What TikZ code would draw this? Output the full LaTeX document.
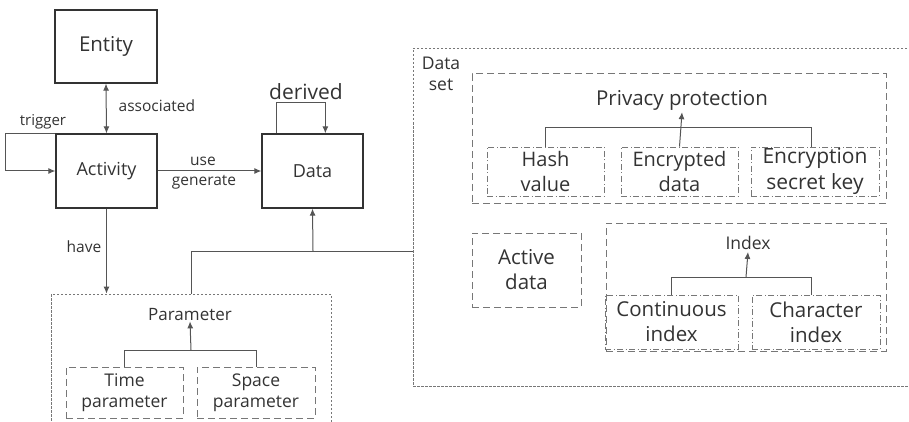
\documentclass[tikz,border=0pt]{standalone}
\usepackage{fontspec}
\setmainfont{Open Sans}
\usetikzlibrary{arrows.meta}
\definecolor{txt}{HTML}{333333}
\definecolor{boxc}{HTML}{333333}
\definecolor{linec}{HTML}{555555}
\definecolor{dashc}{HTML}{777777}
\newcommand{\fs}[1]{\fontsize{#1}{\fpeval{#1*1.22}}\selectfont}
\tikzset{
  lbl/.style={text=txt, inner sep=0, align=center},
  mainbox/.style={draw=boxc, line width=1.3pt, text=txt, inner sep=0,
    minimum width=101pt, minimum height=74pt},
  finebox/.style={draw=dashc, line width=0.8pt, dash pattern=on 2.5pt off 1.5pt, inner sep=0},
  longbox/.style={draw=dashc, line width=1pt, dash pattern=on 7pt off 4pt,
    inner sep=0, text=txt, align=center},
  dotbox/.style={draw=dashc, line width=0.8pt, dash pattern=on 6pt off 2.5pt on 1pt off 2.5pt,
    inner sep=0, text=txt, align=center},
  conn/.style={draw=linec, line width=1pt},
  arr/.style={conn, -{Latex[length=7pt,width=6pt]}},
  biarr/.style={conn, {Latex[length=7pt,width=6pt]}-{Latex[length=7pt,width=6pt]}},
}
\begin{document}
\begin{tikzpicture}[x=1pt, y=-1pt]
\useasboundingbox (0,0) rectangle (909,422);
\clip (0,0) rectangle (909,422);

% main flow
\node[mainbox, minimum width=102pt, minimum height=73pt, font=\fs{20.5}] (entity) at (106,46.5) {Entity};
\node[mainbox, font=\fs{18}] (activity) at (106.5,171) {Activity};
\node[mainbox, font=\fs{18}] (data) at (312.5,171) {Data};

\draw[biarr] (entity.south) -- (activity.north)
  node[lbl, pos=0.45, right=12pt, font=\fs{15.5}] (assoc) {associated};
\draw[arr] (activity.north west) -- ++(-50,0) |- (activity.west);
\node[lbl, font=\fs{15}] (trig) at (43,122) {trigger};
\draw[arr] (activity.east) -- (data.west);
\node[lbl, font=\fs{15.5}] (use) at (203,161) {use};
\node[lbl, font=\fs{15.5}] (gen) at (204,182) {generate};
\draw[arr] ([xshift=15pt]data.north west) -- ++(0,-31) -| ([xshift=64pt]data.north west);
\node[lbl, font=\fs{21}] (derived) at (306,92) {derived};

% parameters
\node[finebox, minimum width=280pt, minimum height=140pt] (parambox) at (191,364) {};
\draw[arr] (activity.south) -- (activity.south |- parambox.north);
\node[lbl, font=\fs{15.5}] (have) at (84,247) {have};
\node[lbl, font=\fs{17}] (param) at (190,315) {Parameter};
\node[longbox, minimum width=117pt, minimum height=51pt, font=\fs{17.5}] (timep) at (124.5,392.5) {Time\\parameter};
\node[longbox, minimum width=118pt, minimum height=51pt, font=\fs{17.5}] (spacep) at (256,392.5) {Space\\parameter};
\coordinate (pj) at (191,350);
\draw[conn] (timep.north) |- (spacep.north |- pj) -- (spacep.north);
\draw[arr] (pj) -- (param.south);

% data set
\node[finebox, minimum width=502pt, minimum height=338pt] (dataset) at (664,217) {};
\node[lbl, font=\fs{17.5}, align=center] (dslbl) at (441,74) {Data\\set};
\coordinate (bus) at (313,251);
\draw[conn] (parambox.north) |- (dataset.west |- bus);
\draw[arr] (bus) -- (data.south);

% privacy protection
\node[longbox, minimum width=414pt, minimum height=129pt] (privbox) at (679,138.5) {};
\node[lbl, font=\fs{20.5}] (priv) at (682,100) {Privacy protection};
\node[dotbox, minimum width=117pt, minimum height=49pt, font=\fs{20}] (hash) at (545.5,171.5) {Hash\\value};
\node[dotbox, minimum width=117pt, minimum height=49pt, font=\fs{20}] (encd) at (679.5,171.5) {Encrypted\\data};
\node[dotbox, minimum width=128pt, minimum height=49pt, font=\fs{21}] (enck) at (815,171.5) {Encryption\\secret key};
\coordinate (ej) at (680,128);
\draw[conn] (hash.north) |- ([xshift=-4pt]enck.north |- ej) -- ([xshift=-4pt]enck.north);
\draw[arr] (encd.north) -- ([yshift=-2pt]priv.south);

% active data and index
\node[longbox, minimum width=109pt, minimum height=74pt, font=\fs{20.5}] (active) at (526.5,270) {Active\\data};
\node[longbox, minimum width=280pt, minimum height=128pt] (idxbox) at (746,287) {};
\node[lbl, font=\fs{17.5}] (idx) at (748,243) {Index};
\node[dotbox, minimum width=133pt, minimum height=54pt, font=\fs{20.5}] (cont) at (671.5,322) {Continuous\\index};
\node[dotbox, minimum width=128pt, minimum height=54pt, font=\fs{20.5}] (char) at (816,322) {Character\\index};
\coordinate (ij) at (746,277);
\draw[conn] (cont.north) |- ([xshift=-5pt]char.north |- ij) -- ([xshift=-5pt]char.north);
\draw[arr] (ij) -- ([yshift=-2pt]idx.south);
\end{tikzpicture}
\end{document}
